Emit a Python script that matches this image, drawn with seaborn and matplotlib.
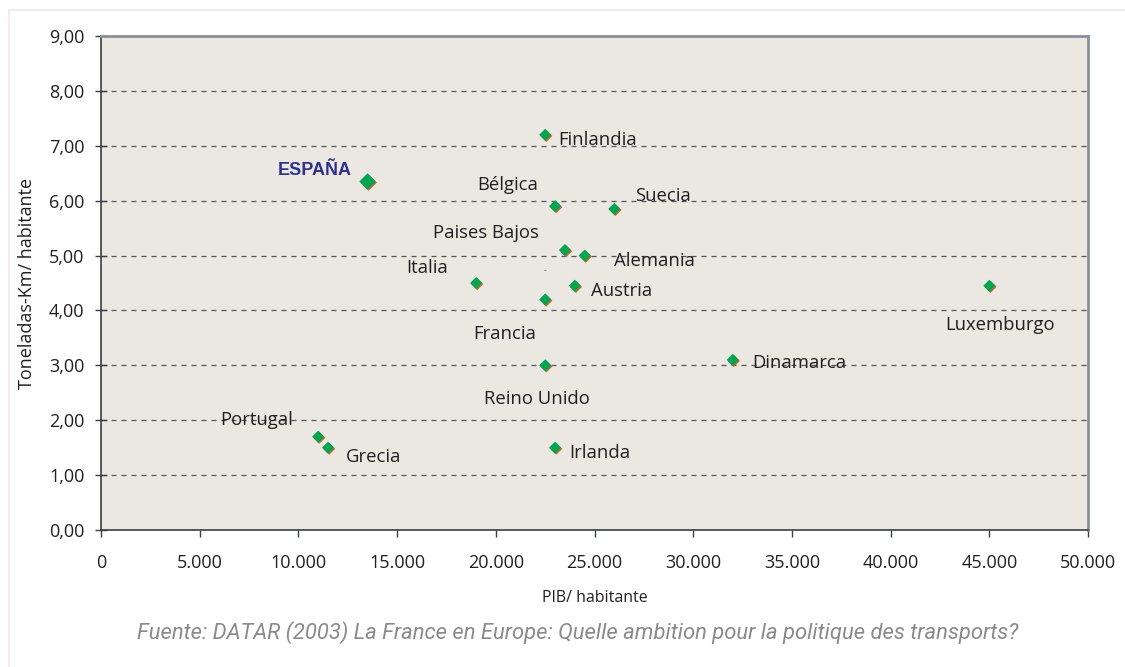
import matplotlib
matplotlib.use("Agg")
import matplotlib.pyplot as plt
import matplotlib.patheffects as pe
from matplotlib.ticker import FuncFormatter, MultipleLocator
import seaborn as sns
import pandas as pd

# data
paises = ["ESPAÑA", "Finlandia", "Bélgica", "Suecia", "Paises Bajos", "Alemania",
          "Italia", "Austria", "Francia", "Reino Unido", "Dinamarca", "Luxemburgo",
          "Portugal", "Grecia", "Irlanda"]
pib = [13500, 22500, 23000, 26000, 23500, 24500,
       19000, 24000, 22500, 22500, 32000, 45000,
       11000, 11500, 23000]
tkm = [6.35, 7.20, 5.90, 5.85, 5.10, 5.00,
       4.50, 4.45, 4.20, 3.00, 3.10, 4.45,
       1.70, 1.50, 1.50]

df = pd.DataFrame({"pais": paises, "pib": pib, "tkm": tkm})

# label offsets in points (dx, dy) relative to each marker
offsets = {
    "ESPAÑA": (-38, 8), "Finlandia": (38, -4), "Bélgica": (-34, 15),
    "Suecia": (35, 9), "Paises Bajos": (-57, 12), "Alemania": (50, -4),
    "Italia": (-35, 11), "Austria": (34, -4), "Francia": (-29, -25),
    "Reino Unido": (-6, -24), "Dinamarca": (48, -2), "Luxemburgo": (8, -28),
    "Portugal": (-44, 12), "Grecia": (33, -7), "Irlanda": (32, -4),
}

sns.set_style("white")
plt.rcParams["font.family"] = ["Open Sans", "DejaVu Sans"]

fig = plt.figure(figsize=(11.25, 6.67), dpi=100)
ax = fig.add_axes([0.0898, 0.2054, 0.8774, 0.7406])
ax.set_facecolor("#ebe7e1")

shadow = [pe.SimplePatchShadow(offset=(0.8, -0.8), shadow_rgbFace="#c8642a", alpha=1), pe.Normal()]
sizes = [70 if p == "ESPAÑA" else 38 for p in paises]
sns.scatterplot(data=df, x="pib", y="tkm", marker="D", color="#00a651",
                s=sizes, linewidth=0, ax=ax, zorder=3, legend=False)
for c in ax.collections:
    c.set_path_effects(shadow)

for p, x, y in zip(paises, pib, tkm):
    dx, dy = offsets[p]
    if p == "ESPAÑA":
        ax.annotate(p, (x, y), xytext=(dx, dy), textcoords="offset points",
                    ha="center", va="center", fontsize=13, fontweight="bold",
                    color="#2e3192", family=["Liberation Sans", "DejaVu Sans"])
    else:
        ax.annotate(p, (x, y), xytext=(dx, dy), textcoords="offset points",
                    ha="center", va="center", fontsize=13.3, color="#231f20")
ax.annotate("-", (22500, 4.2), xytext=(0, 21), textcoords="offset points",
            ha="center", va="center", fontsize=6, color="#231f20")

ax.set_xlim(0, 50000)
ax.set_ylim(0, 9)
ax.xaxis.set_major_locator(MultipleLocator(5000))
ax.yaxis.set_major_locator(MultipleLocator(1))
ax.xaxis.set_major_formatter(FuncFormatter(lambda v, _: f"{int(v):,}".replace(",", ".")))
ax.yaxis.set_major_formatter(FuncFormatter(lambda v, _: f"{v:.2f}".replace(".", ",")))
ax.grid(axis="y", linestyle=(0, (4, 4)), color="#555555", linewidth=0.9)
ax.set_axisbelow(True)

for s in ["top", "right"]:
    ax.spines[s].set_color("#8a9099")
    ax.spines[s].set_linewidth(2)
for s in ["left", "bottom"]:
    ax.spines[s].set_color("#3a3f46")
    ax.spines[s].set_linewidth(1.2)

ax.tick_params(axis="x", direction="out", length=5, width=1, color="#3a3f46",
               labelsize=13, labelcolor="#231f20", pad=12)
ax.tick_params(axis="y", direction="inout", length=8, width=1, color="#3a3f46",
               labelsize=13, labelcolor="#231f20", pad=8)
ax.tick_params(left=True, bottom=True)

ax.set_xlabel("PIB/ habitante", fontsize=11.5, color="#231f20", labelpad=13)
ax.set_ylabel("Toneladas-Km/ habitante", fontsize=13, color="#231f20", labelpad=9)

fig.text(0.5135, 0.051, "Fuente: DATAR (2003) La France en Europe: Quelle ambition pour la politique des transports?",
         ha="center", va="center", fontsize=15.8, style="italic", color="#8a8a8c",
         family=["Roboto", "DejaVu Sans"])

fig.add_artist(plt.Line2D([0.008, 0.008], [0.0, 0.985], color="#f3ecea", linewidth=1.5))
fig.add_artist(plt.Line2D([0.008, 1.0], [0.985, 0.985], color="#f3ecea", linewidth=1.5))

fig.savefig("out.png", dpi=100, facecolor="white")
